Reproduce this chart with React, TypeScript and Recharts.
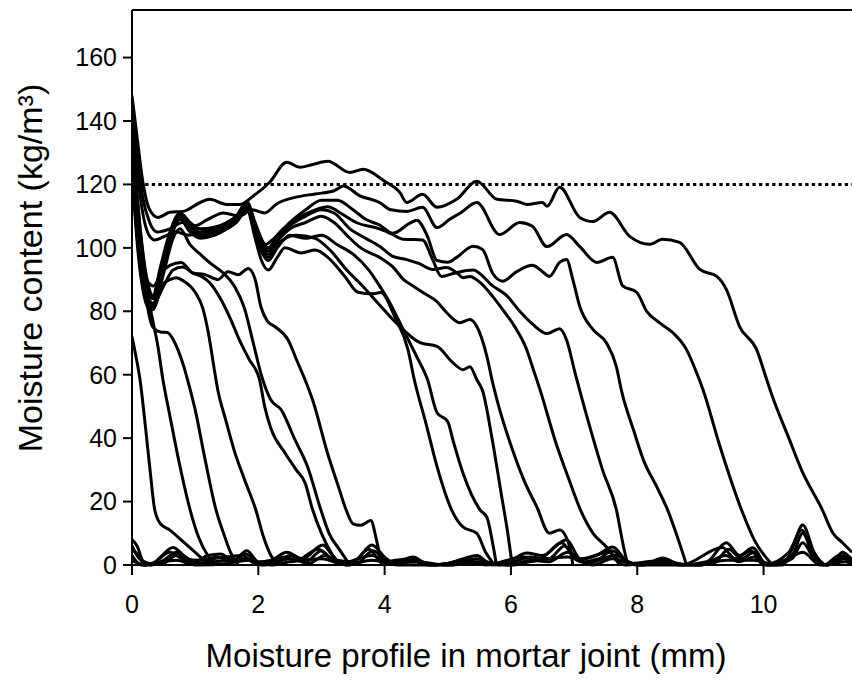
import { LineChart, Line, XAxis, YAxis, ReferenceLine } from "recharts";

type Pt = [number, number];

// moisture profiles, x = depth (mm), y = moisture content (kg/m3)
const profile01: Pt[] = [[0,72],[0.06,66],[0.13,58],[0.2,46],[0.28,31],[0.36,17.4],[0.45,13],[0.6,11],[0.8,7.5],[1.0,4],[1.15,1.5],[1.3,0]];
const profile02: Pt[] = [[0,136],[0.08,116],[0.17,98],[0.26,84],[0.33,77],[0.41,69],[0.49,58.4],[0.6,47],[0.75,32],[0.92,17.4],[1.05,9],[1.2,3],[1.35,0]];
const profile03: Pt[] = [[0,134],[0.08,112],[0.17,93],[0.25,81],[0.33,75],[0.45,73.5],[0.56,73.3],[0.68,70],[0.78,65],[0.88,58.4],[1.0,49],[1.15,34],[1.33,17.4],[1.45,10],[1.56,4],[1.68,0]];
const profile04: Pt[] = [[0,131],[0.08,110],[0.17,94],[0.26,86],[0.34,84],[0.46,88],[0.6,90],[0.7,90.6],[0.82,89.5],[1.0,86],[1.12,81],[1.22,72],[1.3,62],[1.36,55],[1.48,46],[1.62,36],[1.78,27],[1.96,17.4],[2.08,9],[2.2,3],[2.32,0]];
const profile05: Pt[] = [[0,130],[0.08,108],[0.17,92],[0.26,84],[0.34,82.5],[0.5,88],[0.65,93],[0.8,94],[0.97,92],[1.1,91],[1.23,89],[1.4,84],[1.55,78],[1.7,71],[1.85,65],[2.02,58.4],[2.1,50],[2.2,43],[2.42,35.4],[2.6,30],[2.74,25.9],[2.86,17.4],[3.0,10],[3.15,4],[3.3,0]];
const profile06: Pt[] = [[0,127],[0.08,106],[0.17,90],[0.26,83],[0.34,81],[0.5,92],[0.65,103],[0.76,106],[0.92,101],[1.08,98],[1.25,95],[1.45,92],[1.62,88],[1.78,81],[1.92,70],[2.07,58.4],[2.2,52],[2.36,49],[2.58,39.5],[2.78,31],[2.99,17.4],[3.12,10],[3.28,5],[3.45,0]];
const profile07: Pt[] = [[0,132],[0.08,111],[0.17,96],[0.26,89],[0.34,88],[0.46,92],[0.6,94.5],[0.78,95.4],[0.97,92],[1.15,91.6],[1.36,90],[1.52,92.5],[1.68,91.5],[1.84,93.5],[1.95,90],[2.04,81.5],[2.14,77],[2.26,75.2],[2.47,71],[2.62,64],[2.74,58.4],[2.86,52],[3.1,35],[3.28,24],[3.39,17.4],[3.5,13],[3.62,12.5],[3.78,14],[3.87,8],[3.95,0]];
const profile08: Pt[] = [[0,126],[0.08,104],[0.17,88],[0.26,82],[0.33,81],[0.45,90],[0.6,103],[0.76,109],[0.92,106],[1.08,103.5],[1.3,104],[1.5,106],[1.65,108],[1.82,112],[1.95,103],[2.05,96],[2.16,93],[2.3,97],[2.42,100],[2.68,98.4],[2.9,99.3],[3.1,97],[3.37,91],[3.58,86],[3.8,85.5],[3.94,85.9],[4.16,78.3],[4.37,67.9],[4.47,58.4],[4.65,45],[4.83,31],[5.06,17.4],[5.24,12],[5.46,10],[5.6,4],[5.74,0]];
const profile09: Pt[] = [[0,129],[0.08,107],[0.17,90],[0.26,83],[0.33,82],[0.45,92],[0.6,104],[0.76,110],[0.92,107],[1.08,104],[1.3,105],[1.5,107],[1.65,109],[1.82,113],[1.95,104],[2.07,98],[2.16,96],[2.3,100],[2.5,104],[2.75,103],[3.0,104],[3.25,101],[3.5,98],[3.75,93],[3.92,88],[4.1,82],[4.3,74],[4.5,66],[4.68,58.4],[4.83,48],[5.0,45.2],[5.08,39.5],[5.24,29],[5.51,17.4],[5.62,15],[5.7,8],[5.77,0]];
const profile10: Pt[] = [[0,124],[0.08,102],[0.17,87],[0.26,81],[0.33,80.5],[0.45,90],[0.6,102],[0.76,109],[0.92,105],[1.08,103],[1.3,104],[1.5,106],[1.65,108],[1.82,112.5],[1.95,105],[2.07,99],[2.16,97],[2.3,101],[2.6,104],[2.9,103],[3.15,99],[3.4,93],[3.65,88],[3.92,82],[4.2,76],[4.56,70.1],[4.83,68.9],[5.08,63.8],[5.24,61.6],[5.35,62.5],[5.46,58.4],[5.55,55],[5.7,40],[5.85,22],[5.95,10],[6.02,0]];
const profile11: Pt[] = [[0,127],[0.08,106],[0.17,89],[0.26,82.5],[0.33,81.5],[0.45,91],[0.6,103],[0.76,110],[0.92,106],[1.08,104],[1.3,105],[1.5,107],[1.65,109],[1.82,113.5],[1.95,106],[2.07,100],[2.16,98],[2.3,102],[2.5,106],[2.75,108],[3.0,110],[3.2,108],[3.4,104],[3.62,100],[3.92,97],[4.13,94],[4.3,90],[4.45,88],[4.6,86],[4.83,83],[4.98,79.6],[5.19,76.4],[5.35,77.4],[5.46,75.2],[5.62,65.7],[5.7,58.4],[5.78,52],[6.03,36],[6.2,27],[6.41,18.3],[6.61,10],[6.77,11],[6.93,5.7],[6.98,0]];
const profile12: Pt[] = [[0,135],[0.08,113],[0.17,95],[0.26,86],[0.33,84],[0.45,93],[0.6,104],[0.76,110.5],[0.92,107],[1.08,105],[1.3,105.5],[1.5,107.5],[1.65,109.5],[1.82,114],[1.95,107],[2.07,101],[2.16,99],[2.3,103],[2.5,107],[2.75,110],[3.0,112],[3.2,111],[3.45,106],[3.7,103],[3.92,100.5],[4.13,97.3],[4.35,96.3],[4.55,95],[4.76,93.2],[4.98,93.8],[5.14,92.2],[5.24,90.6],[5.35,91],[5.51,89.1],[5.71,84.7],[5.87,80.5],[6.09,74.2],[6.25,67.9],[6.34,62.5],[6.46,55.3],[6.72,38],[6.9,28],[7.1,17.4],[7.3,10],[7.52,5.5],[7.72,0]];
const profile13: Pt[] = [[0,138],[0.08,117],[0.17,99],[0.26,88],[0.33,85],[0.45,94],[0.6,105],[0.76,111],[0.92,108],[1.08,106],[1.3,106.5],[1.5,108],[1.65,110],[1.82,114.5],[1.95,108],[2.07,102],[2.16,100],[2.3,104],[2.6,109],[2.9,112],[3.1,113],[3.3,111],[3.55,108],[3.92,106],[4.1,104.5],[4.3,102.7],[4.6,102.5],[4.76,96.3],[4.9,91],[5.1,92],[5.4,93],[5.71,88],[5.93,85],[6.14,80],[6.34,76],[6.57,73],[6.77,74.5],[6.88,71],[7.01,61],[7.09,55],[7.3,40],[7.45,30],[7.67,17.4],[7.78,6],[7.85,0]];
const profile14: Pt[] = [[0,142],[0.08,125],[0.17,111],[0.27,104],[0.36,102.5],[0.5,103.5],[0.7,105],[0.9,104],[1.1,105],[1.3,106],[1.55,108],[1.82,112],[1.96,106],[2.1,101],[2.25,103],[2.5,108],[2.75,112],[3.0,115],[3.25,115],[3.5,112],[3.7,109],[3.92,107.2],[4.13,104.6],[4.4,107.8],[4.51,108.7],[4.67,104],[4.83,96],[5.0,95.5],[5.14,97],[5.4,100.5],[5.55,99.5],[5.71,92],[5.87,89.5],[6.09,92.5],[6.34,94.5],[6.5,92.5],[6.61,91],[6.77,95.4],[6.88,96.3],[6.98,90],[7.09,81.5],[7.3,74.2],[7.51,70.1],[7.67,62.5],[7.75,55],[7.95,42],[8.1,33],[8.3,25],[8.48,17.4],[8.65,8],[8.78,0]];
const profile15: Pt[] = [[0,145],[0.08,130],[0.17,116],[0.28,108],[0.4,105],[0.6,106],[0.8,108],[1.0,107],[1.2,109],[1.45,111],[1.7,110],[1.9,112],[2.1,111],[2.3,114],[2.6,116],[2.9,117],[3.2,118],[3.35,119.5],[3.6,116.5],[3.92,114.3],[4.1,112],[4.35,111.5],[4.6,112.8],[4.83,106.4],[5.03,109],[5.2,111],[5.46,114.3],[5.82,104.2],[6.14,108],[6.34,106.8],[6.57,100.4],[6.88,104.2],[7.09,100.4],[7.36,95.4],[7.61,97],[7.77,88],[7.99,86],[8.15,80],[8.35,76.4],[8.56,73.3],[8.78,67.9],[8.94,60.6],[9.04,55.3],[9.3,38],[9.65,17.4],[9.85,8],[10.14,0]];
const profile16: Pt[] = [[0,148],[0.08,135],[0.17,121],[0.28,112],[0.41,109.6],[0.6,111.2],[0.81,111.5],[1.08,114.3],[1.23,115.3],[1.5,113.7],[1.71,113.7],[1.91,116.2],[2.18,120.7],[2.45,127],[2.66,125.4],[2.86,126.3],[3.1,127.3],[3.45,123.8],[3.66,124.8],[4.0,121],[4.24,117.5],[4.35,114.3],[4.6,116.9],[4.83,112.8],[5.14,115.3],[5.46,121],[5.78,115.3],[6.09,114.7],[6.25,113.7],[6.5,114.3],[6.57,113.1],[6.77,119.1],[7.09,109.6],[7.3,108.3],[7.56,111.2],[7.88,103.6],[8.2,101.1],[8.4,102.7],[8.67,101.7],[8.99,93.2],[9.26,91],[9.41,86.9],[9.62,75.2],[9.89,67.9],[10.05,58.4],[10.14,53.1],[10.4,40],[10.6,30],[10.93,17.4],[11.1,10],[11.25,7],[11.4,4]];

// residual traces near zero behind the wetting front
const residual01: Pt[] = [[0,8],[0.08,6],[0.18,1],[0.3,0],[0.45,2.5],[0.65,5.5],[0.85,2.5],[1.0,1],[1.2,3],[1.4,3.5],[1.6,1.5],[1.82,4.5],[2.0,1],[2.2,1.5],[2.45,4],[2.7,2],[3.02,6.3],[3.25,1.5],[3.5,1],[3.8,6.3],[4.0,2.5],[4.15,0.5],[4.45,2.5],[4.7,0],[5.0,0.5],[5.25,2],[5.46,3],[5.7,0],[6.0,1.5],[6.25,3.8],[6.5,3],[6.88,8],[7.1,2],[7.35,3],[7.61,5.7],[7.85,1],[8.1,0],[8.4,2.2],[8.7,0],[9.1,1],[9.41,7],[9.62,3],[9.83,5.4],[10.05,0],[10.3,0],[10.45,5],[10.62,12.6],[10.8,4],[11.0,0],[11.15,2],[11.25,4],[11.4,1.5]];
const residual02: Pt[] = [[0,5],[0.1,3],[0.2,0],[0.5,1.5],[0.7,4],[0.9,1.5],[1.1,0.5],[1.3,2],[1.5,2.5],[1.75,3],[1.95,0.5],[2.3,1],[2.5,3],[2.75,1],[3.0,4.5],[3.2,1],[3.55,0.5],[3.82,4.5],[4.05,1],[4.4,1.5],[4.7,0],[5.2,1],[5.45,2],[5.8,0],[6.05,1],[6.3,2.5],[6.6,2],[6.85,6],[7.1,1],[7.4,2],[7.6,4.5],[7.9,0.5],[8.4,1.5],[8.8,0],[9.2,0.5],[9.45,5],[9.65,2],[9.85,4],[10.05,0],[10.45,3],[10.62,10],[10.8,3],[11.0,0],[11.3,3],[11.4,1]];
const residual03: Pt[] = [[0,3],[0.15,0],[0.5,0.5],[0.7,3],[0.95,0.5],[1.3,1],[1.5,1.5],[1.8,2],[2.1,0],[2.5,2],[2.8,0.5],[3.05,3],[3.3,0.5],[3.8,3],[4.1,0.5],[4.5,1],[5.0,0],[5.45,1],[6.0,0],[6.3,1.5],[6.6,1],[6.9,4],[7.2,0.5],[7.65,3],[8.0,0],[8.5,0.5],[9.0,0],[9.4,3],[9.6,1],[9.85,2.5],[10.1,0],[10.45,2],[10.62,7],[10.8,2],[11.0,0],[11.28,2],[11.4,0.5]];
const residual04: Pt[] = [[0,1.5],[0.2,0],[0.7,1.5],[1.0,0],[1.5,0.5],[1.85,1.5],[2.2,0],[2.5,1],[3.0,2],[3.4,0],[3.8,1.5],[4.2,0],[5.0,0],[5.5,0.5],[6.0,0],[6.3,1],[6.9,2.5],[7.3,0],[7.6,2],[8.0,0],[9.0,0],[9.4,1.5],[9.85,1.5],[10.2,0],[10.62,4],[10.9,0],[11.3,1],[11.4,0]];
const residual05: Pt[] = [[0,6],[0.12,2],[0.3,0.5],[0.6,4],[0.8,2],[1.1,1.5],[1.35,2.5],[1.6,1],[1.8,3.5],[2.05,0],[2.4,2.5],[2.6,1.5],[2.95,5],[3.15,2],[3.45,0],[3.75,5],[3.95,1],[4.4,2],[4.8,0],[5.3,1.5],[5.6,0],[6.2,2.5],[6.45,2],[6.8,7],[7.05,1.5],[7.55,4],[7.8,0],[8.3,1],[8.7,0],[9.35,5.5],[9.55,2],[9.8,4.5],[10.0,0],[10.4,4],[10.6,11],[10.75,5],[10.95,0],[11.2,3],[11.4,2]];

const profiles = [
  profile01, profile02, profile03, profile04, profile05, profile06, profile07, profile08,
  profile09, profile10, profile11, profile12, profile13, profile14, profile15, profile16,
  residual01, residual02, residual03, residual04, residual05,
];

const xTicks = [0, 2, 4, 6, 8, 10];
const yTicks = [0, 20, 40, 60, 80, 100, 120, 140, 160];
const saturation = 120;

const font = "'Liberation Sans', Arial, sans-serif";

export default function App() {
  return (
    <div style={{ position: "absolute", left: 0, top: 0, width: 852, height: 680, background: "#fff" }}>
      <LineChart width={852} height={680} margin={{ top: 10, right: 0, bottom: 0, left: 0 }}>
        <XAxis
          type="number"
          dataKey="x"
          domain={[0, 11.4]}
          ticks={xTicks}
          allowDataOverflow
          height={115}
          stroke="#000"
          strokeWidth={2}
          tickSize={10}
          tickMargin={20}
          tick={{ fill: "#000", fontSize: 25, fontFamily: font }}
        />
        <YAxis
          type="number"
          dataKey="y"
          domain={[0, 175]}
          ticks={yTicks}
          width={132}
          stroke="#000"
          strokeWidth={2}
          tickSize={9}
          tickMargin={6}
          tick={{ fill: "#000", fontSize: 25, fontFamily: font }}
        />
        <ReferenceLine y={175} stroke="#000" strokeWidth={2} />
        <ReferenceLine y={saturation} stroke="#000" strokeWidth={3} strokeDasharray="3.3 3.3" />
        {profiles.map((p, i) => (
          <Line
            key={i}
            data={p.map(([x, y]) => ({ x, y }))}
            dataKey="y"
            type="monotone"
            stroke="#000"
            strokeWidth={3}
            dot={false}
            activeDot={false}
            isAnimationActive={false}
          />
        ))}
      </LineChart>
      <div
        style={{
          position: "absolute",
          left: 466,
          top: 656,
          transform: "translate(-50%, -50%)",
          whiteSpace: "nowrap",
          fontFamily: font,
          fontSize: 33,
          color: "#000",
        }}
      >
        Moisture profile in mortar joint (mm)
      </div>
      <div
        style={{
          position: "absolute",
          left: 30,
          top: 268,
          transform: "translate(-50%, -50%) rotate(-90deg)",
          whiteSpace: "nowrap",
          fontFamily: font,
          fontSize: 34,
          color: "#000",
        }}
      >
        Moisture content (kg/m³)
      </div>
    </div>
  );
}
